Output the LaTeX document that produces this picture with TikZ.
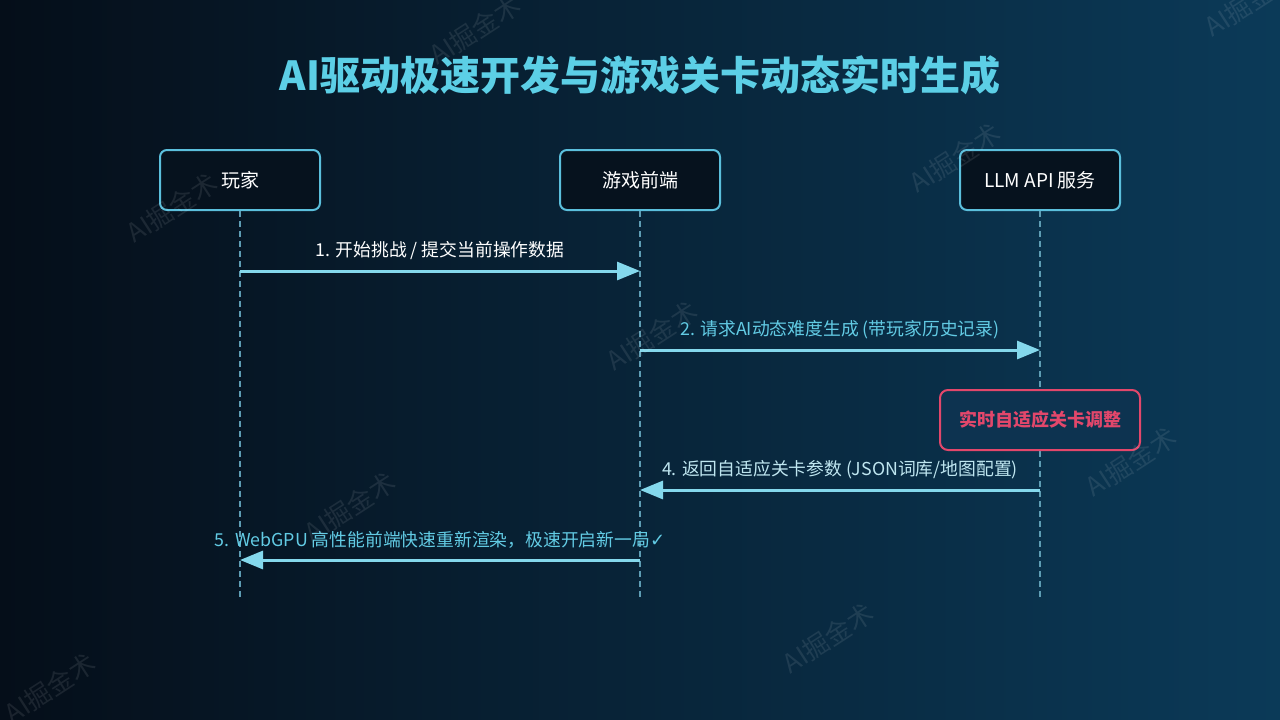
\documentclass[tikz,border=0pt]{standalone}
\usepackage{fontspec}
\setmainfont{Noto Sans CJK SC}
\newfontfamily\checkfont{DejaVu Sans}
\usetikzlibrary{arrows.meta}
\definecolor{bgleft}{HTML}{050E19}
\definecolor{bgright}{HTML}{0B3A58}
\definecolor{titlecyan}{HTML}{5CCFE6}
\definecolor{boxline}{HTML}{5BBFDC}
\definecolor{boxfill}{HTML}{06121E}
\definecolor{msgline}{HTML}{84D8EC}
\definecolor{lifegray}{HTML}{5E9DB4}
\definecolor{alertred}{HTML}{E2476B}
\definecolor{alertfill}{HTML}{0D3350}
\definecolor{labelcyan}{HTML}{62CBE4}
\definecolor{labelpale}{HTML}{BFE6F0}
\tikzset{
  actor/.style={draw=boxline, line width=2pt, fill=boxfill, rounded corners=7pt,
    minimum width=160pt, minimum height=60pt, text=white, font=\fontsize{19}{23}\selectfont},
  alert/.style={draw=alertred, line width=2pt, fill=alertfill, rounded corners=8pt,
    minimum width=200pt, minimum height=60pt, text=alertred, font=\fontsize{18}{22}\selectfont\bfseries},
  msg/.style={draw=msgline, line width=3pt, -{Triangle[length=23pt,width=18pt]}},
  msglabel/.style={above, inner sep=10pt, font=\fontsize{17.8}{21}\selectfont},
  life/.style={draw=lifegray, line width=1.2pt, dash pattern=on 6pt off 4pt},
  watermark/.style={rotate=33, text=white, opacity=0.09, font=\fontsize{26}{30}\selectfont}
}
\begin{document}
\begin{tikzpicture}[x=1pt, y=-1pt]
  % 背景
  \shade[left color=bgleft, right color=bgright] (0,0) rectangle (1280,720);
  \useasboundingbox (0,0) rectangle (1280,720);

  \node[text=titlecyan, font=\fontsize{40}{46}\selectfont\bfseries] (title) at (640,75)
    {AI驱动极速开发与游戏关卡动态实时生成};

  % 参与者
  \node[actor] (player) at (240,180) {玩家};
  \node[actor] (front) at (640,180) {游戏前端};
  \node[actor] (llm) at (1040,180) {LLM API 服务};

  % 生命线
  \foreach \n in {player,front,llm}{
    \path (\n.south) ++(0,388) coordinate (\n-end);
    \draw[life] (\n.south) -- (\n-end);
    \foreach \i/\d in {1/60,2/139,4/279,5/349}{
      \path (\n.south) ++(0,\d) coordinate (\n-\i);   % 消息所在高度
    }
  }

  \node[alert] (adjust) at (1040,420) {实时自适应关卡调整};

  % 消息
  \draw[msg] (player-1) -- node[msglabel, text=white]{1. 开始挑战 / 提交当前操作数据} (front-1);
  \draw[msg] (front-2) -- node[msglabel, text=labelcyan]{2. 请求AI动态难度生成 (带玩家历史记录)} (llm-2);
  \draw[msg] (llm-4) -- node[msglabel, text=labelpale]{4. 返回自适应关卡参数 (JSON词库/地图配置)} (front-4);
  \draw[msg] (front-5) -- node[msglabel, text=labelcyan]{5. WebGPU 高性能前端快速重新渲染，极速开启新一局{\checkfont\fontsize{18}{21}\selectfont ✓}} (player-5);

  % 水印
  \foreach \x/\y [count=\k] in {172/208, 475/30, 652/336, 955/158, 1131/462, 350/507, 50/688, 828/638, 1250/2}{
    \node[watermark] (wm\k) at (\x,\y) {AI掘金术};
  }
\end{tikzpicture}
\end{document}
